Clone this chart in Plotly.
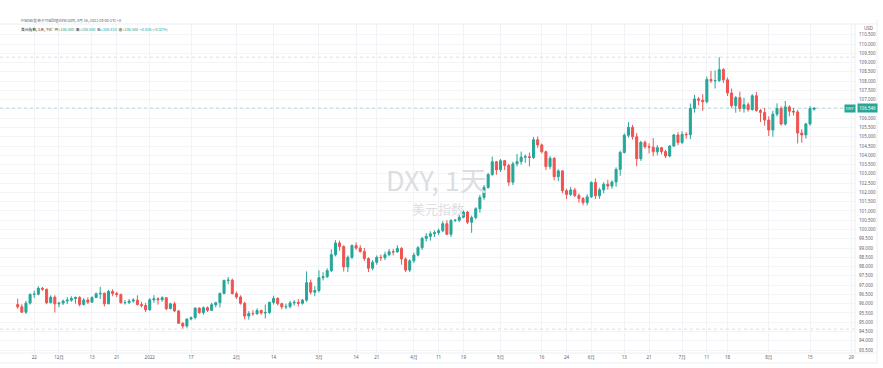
import pandas as pd
import plotly.graph_objects as go

# ---------------- data (DXY daily, 2021-11-17 .. 2022-08-16) ----------------
opens = [
    95.95, 95.83, 95.54, 96.03, 96.50, 96.51, 96.83, 96.78, 96.05, 96.35,  # Nov
    95.99, 96.03, 96.14, 96.19, 96.28, 96.34, 95.96, 96.20, 96.08, 96.33, 96.53,
    96.56, 95.99, 96.66, 96.55, 96.49, 96.05, 96.06, 96.14, 96.19, 95.95, 95.90,  # Dec
    95.67, 96.21, 96.26, 96.21, 96.32, 95.73, 95.99, 95.61, 94.94, 94.79, 95.17,
    95.25, 95.76, 95.52, 95.78, 95.64, 95.94, 96.05, 96.55, 97.25, 97.27,  # Jan
    96.54, 96.36, 96.02, 95.33, 95.47, 95.46, 95.63, 95.50, 95.52, 96.07,
    96.28, 96.00, 95.83, 95.84, 96.04, 96.07, 96.02, 96.19, 97.13, 96.62,  # Feb
    96.71, 97.40, 97.45, 97.78, 98.64, 99.27, 99.08, 97.98, 98.50, 99.13, 99.00, 98.81,
    98.43, 97.91, 98.23, 98.50, 98.48, 98.64, 98.80, 98.79, 98.98, 98.41, 97.81,  # Mar
    98.31, 98.62, 99.02, 99.52, 99.63, 99.77, 99.83, 99.93, 100.31, 99.74, 100.49,
    100.50, 100.66, 100.94, 100.39, 100.64, 101.12, 101.73, 102.27, 102.96, 103.65,  # Apr
    103.22, 103.71, 103.45, 102.55, 103.54, 103.66, 103.90, 103.92, 103.88, 104.84, 104.56,
    104.19, 103.39, 103.84, 102.85, 103.16, 102.09, 101.89, 102.13, 101.83, 101.67, 101.45,  # May
    101.76, 102.53, 101.82, 102.14, 102.44, 102.34, 102.56, 103.24, 104.15, 105.08, 105.51,
    105.00, 103.82, 104.70, 104.46, 104.44, 104.19, 104.41, 104.20, 103.96, 104.50, 105.10,  # Jun
    104.69, 105.13, 105.11, 106.53, 107.04, 106.97, 106.89, 108.09, 108.02, 108.03, 108.62,
    108.07, 107.36, 106.68, 107.11, 106.52, 106.73, 106.47, 107.21, 106.41, 106.31,  # Jul
    105.90, 105.36, 106.22, 106.52, 105.69, 106.61, 106.38, 106.34, 105.20, 105.10, 105.69, 106.48,  # Aug
]
highs = [
    96.27, 95.97, 96.15, 96.55, 96.70, 96.94, 96.90, 96.80, 96.45, 96.45,
    96.10, 96.22, 96.35, 96.40, 96.38, 96.40, 96.30, 96.34, 96.40, 96.60, 96.91,
    96.60, 96.75, 96.78, 96.63, 96.55, 96.20, 96.25, 96.30, 96.45, 96.10, 96.05,
    96.30, 96.46, 96.35, 96.40, 96.35, 96.05, 96.10, 95.65, 95.00, 95.20, 95.30,
    95.80, 95.80, 95.85, 95.85, 96.05, 96.10, 96.60, 97.30, 97.44, 97.35,
    96.65, 96.45, 96.10, 95.60, 95.65, 95.75, 95.68, 95.95, 96.10, 96.43,
    96.35, 96.05, 96.00, 96.15, 96.20, 96.25, 96.25, 97.74, 97.30, 96.95,
    97.80, 97.70, 97.90, 98.93, 99.42, 99.40, 99.15, 98.60, 99.20, 99.30, 99.15,
    99.00, 98.50, 98.35, 98.60, 98.65, 98.80, 98.95, 98.95, 99.15, 99.05, 98.50,
    98.40, 98.75, 99.10, 99.60, 99.80, 99.90, 99.95, 100.05, 100.45, 100.50, 100.55,
    100.55, 100.80, 101.03, 101.00, 100.75, 101.20, 101.86, 102.40, 103.05, 103.93,
    103.70, 103.80, 103.75, 103.55, 103.65, 104.07, 104.20, 104.05, 104.15, 104.99, 105.01,
    104.63, 104.25, 103.95, 103.90, 103.25, 103.20, 102.20, 102.30, 102.25, 101.95, 101.75,
    101.90, 102.60, 102.75, 102.25, 102.55, 102.68, 102.65, 103.35, 104.25, 105.18, 105.79,
    105.65, 105.20, 104.78, 104.80, 104.65, 104.93, 104.55, 104.45, 104.30, 104.55, 105.15,
    105.25, 105.30, 105.25, 106.79, 107.26, 107.15, 107.30, 108.25, 108.55, 108.58, 109.29,
    108.70, 108.20, 107.60, 107.20, 107.43, 107.10, 106.85, 107.30, 107.42, 106.50,
    106.55, 106.10, 106.40, 106.80, 106.65, 106.93, 106.70, 106.55, 106.45, 105.40, 105.75, 106.65, 106.58,
]
lows = [
    95.72, 95.50, 95.45, 95.95, 96.30, 96.45, 96.70, 95.97, 96.02, 95.52,
    95.80, 95.93, 95.98, 96.10, 96.00, 95.85, 95.90, 95.98, 96.05, 96.30, 96.25,
    95.85, 95.98, 96.40, 96.35, 96.00, 95.95, 95.98, 96.05, 95.90, 95.80, 95.55,
    95.62, 96.05, 95.95, 96.10, 95.65, 95.70, 95.55, 94.90, 94.63, 94.70, 95.10,
    95.15, 95.45, 95.40, 95.55, 95.62, 95.80, 95.80, 96.50, 97.05, 96.50,
    96.25, 95.95, 95.16, 95.14, 95.35, 95.40, 95.40, 95.20, 95.45, 95.95,
    95.90, 95.70, 95.70, 95.75, 95.90, 95.85, 95.95, 96.10, 96.50, 96.40,
    96.60, 97.25, 97.40, 97.70, 98.55, 98.85, 97.73, 97.70, 98.40, 98.90, 98.75,
    98.30, 97.70, 97.80, 98.10, 98.30, 98.35, 98.55, 98.60, 98.75, 98.10, 97.70,
    97.70, 98.20, 98.55, 98.90, 99.35, 99.40, 99.60, 99.70, 99.85, 99.70, 99.60,
    100.40, 100.40, 100.60, 100.30, 99.82, 100.55, 100.90, 101.60, 102.20, 102.90,
    102.95, 103.10, 103.20, 102.35, 102.40, 103.40, 103.50, 103.60, 103.40, 103.80, 104.40,
    104.10, 103.20, 103.25, 102.65, 102.60, 101.95, 101.64, 101.80, 101.75, 101.45, 101.30,
    101.30, 101.70, 101.65, 101.65, 101.95, 102.15, 102.20, 102.30, 102.90, 104.10, 104.95,
    104.85, 103.41, 103.70, 104.35, 104.10, 103.95, 104.00, 104.05, 103.85, 103.90, 104.45,
    104.55, 104.60, 104.90, 104.87, 106.30, 106.70, 106.40, 106.80, 107.90, 107.60, 107.95,
    107.90, 107.20, 106.55, 106.30, 106.35, 106.30, 106.35, 106.40, 106.35, 105.80,
    105.60, 105.04, 105.00, 106.10, 105.60, 105.60, 106.10, 106.15, 104.64, 104.68, 104.90, 105.60, 106.41,
]
closes = [
    95.83, 95.54, 96.03, 96.50, 96.51, 96.83, 96.78, 96.05, 96.35, 95.99,
    96.03, 96.14, 96.19, 96.28, 96.34, 95.96, 96.20, 96.08, 96.33, 96.53, 96.56,
    95.99, 96.66, 96.55, 96.49, 96.05, 96.06, 96.14, 96.19, 95.95, 95.90, 95.67,
    96.21, 96.26, 96.21, 96.32, 95.73, 95.99, 95.61, 94.94, 94.79, 95.17, 95.25,
    95.76, 95.52, 95.78, 95.64, 95.94, 96.05, 96.55, 97.25, 97.27, 96.54,
    96.36, 96.02, 95.33, 95.47, 95.46, 95.63, 95.50, 95.52, 96.07, 96.28,
    96.00, 95.83, 95.84, 96.04, 96.07, 96.02, 96.19, 97.13, 96.62, 96.71,
    97.40, 97.45, 97.78, 98.64, 99.27, 99.08, 97.98, 98.50, 99.13, 99.00, 98.81,
    98.43, 97.91, 98.23, 98.50, 98.48, 98.64, 98.80, 98.79, 98.98, 98.41, 97.81,
    98.31, 98.62, 99.02, 99.52, 99.63, 99.77, 99.83, 99.93, 100.31, 99.74, 100.49,
    100.50, 100.66, 100.94, 100.39, 100.64, 101.12, 101.73, 102.27, 102.96, 103.65,
    103.22, 103.71, 103.45, 102.55, 103.54, 103.66, 103.90, 103.92, 103.88, 104.84, 104.56,
    104.19, 103.39, 103.84, 102.85, 103.16, 102.09, 101.89, 102.13, 101.83, 101.67, 101.45,
    101.76, 102.53, 101.82, 102.14, 102.44, 102.34, 102.56, 103.24, 104.15, 105.08, 105.51,
    105.00, 103.82, 104.70, 104.46, 104.44, 104.19, 104.41, 104.20, 103.96, 104.50, 105.10,
    104.69, 105.13, 105.11, 106.53, 107.04, 106.97, 106.89, 108.09, 108.02, 108.03, 108.62,
    108.07, 107.36, 106.68, 107.11, 106.52, 106.73, 106.47, 107.21, 106.41, 106.31,
    105.90, 105.36, 106.22, 106.52, 105.69, 106.61, 106.38, 106.34, 105.20, 105.10, 105.69, 106.52, 106.546,
]

# x-axis tick labels (trading-day index, label)
tick_pos = [4, 10, 18, 24, 32, 42, 53, 62, 73, 82, 87, 96, 102, 108, 117, 127, 133,
            139, 147, 153, 161, 167, 172, 182, 192, 202]
tick_txt = ["22", "12月", "13", "21", "2022", "17", "2月", "14", "3月", "14", "21", "4月",
            "11", "19", "5月", "16", "24", "6月", "13", "21", "7月", "11", "18", "8月", "15", "29"]

# price-scale labels
y_ticks = [93.5, 94.0, 94.5, 95.0, 95.5, 96.0, 96.5, 97.0, 97.5, 98.0, 98.5, 99.0,
           99.5, 100.0, 100.5, 101.0, 101.5, 102.0, 102.5, 103.0, 103.5, 104.0,
           104.5, 105.0, 105.5, 106.0, 106.5, 107.0, 107.5, 108.0, 108.5, 109.0,
           109.5, 110.0, 110.5]

dates = [d for d in pd.bdate_range("2021-11-17", "2022-08-16") if d != pd.Timestamp("2021-12-24")]
n = len(closes)
assert len(opens) == n and len(highs) == n and len(lows) == n and len(dates) == n
idx = list(range(n))

UP = "#26a69a"
DN = "#ef5350"

W, H = 883, 368
ML, MR, MT, MB = 0, 28, 24, 15
PW, PH = W - ML - MR, H - MT - MB


def px(x):
    return (x - ML) / PW


def py(y):
    return (H - MB - y) / PH


fig = go.Figure()
fig.add_trace(go.Candlestick(
    x=idx, open=opens, high=highs, low=lows, close=closes,
    increasing=dict(line=dict(color=UP, width=1), fillcolor=UP),
    decreasing=dict(line=dict(color=DN, width=1), fillcolor=DN),
    whiskerwidth=0, hoverinfo="skip", showlegend=False,
))

hi, lo = max(highs), min(lows)
shapes = [
    dict(type="line", xref="paper", yref="y", x0=0, x1=1, y0=hi, y1=hi,
         line=dict(color="#dcdee3", width=1, dash="dot")),
    dict(type="line", xref="paper", yref="y", x0=0, x1=1, y0=lo, y1=lo,
         line=dict(color="#dcdee3", width=1, dash="dot")),
    dict(type="line", xref="paper", yref="y", x0=0, x1=1, y0=closes[-1], y1=closes[-1],
         line=dict(color="rgba(38,166,154,0.35)", width=1, dash="dot")),
    # pane frame lines
    dict(type="line", xref="paper", yref="paper", x0=1, x1=1, y0=0, y1=1,
         line=dict(color="#eceef1", width=1)),
    dict(type="line", xref="paper", yref="paper", x0=0, x1=px(877), y0=0, y1=0,
         line=dict(color="#eceef1", width=1)),
    dict(type="line", xref="paper", yref="paper", x0=0, x1=px(877), y0=1, y1=1,
         line=dict(color="#eceef1", width=1)),
    dict(type="line", xref="paper", yref="paper", x0=px(877), x1=px(877), y0=py(363), y1=py(20),
         line=dict(color="#eceef1", width=1)),
    dict(type="line", xref="paper", yref="paper", x0=0, x1=px(877), y0=py(363), y1=py(363),
         line=dict(color="#eceef1", width=1)),
]

last_o, last_h, last_l, last_c = opens[-1], highs[-1], lows[-1], closes[-1]
chg = last_c - closes[-2]
TXT = "#5d606b"
annotations = [
    dict(xref="paper", yref="paper", x=px(19), y=py(21), xanchor="left", yanchor="middle",
         text="Pranav发布于TradingView.com, 8月 16, 2022 03:00 UTC+8", showarrow=False,
         font=dict(size=3.8, color=TXT, family="Noto Sans CJK SC")),
    dict(xref="paper", yref="paper", x=px(19), y=py(29.5), xanchor="left", yanchor="middle",
         text=("美元指数, 1天, TVC  开<span style='color:%s'>=%.3f</span>  高<span style='color:%s'>=%.3f</span>"
               "  低<span style='color:%s'>=%.3f</span>  收<span style='color:%s'>=%.3f  %+.3f (%+.2f%%)</span>")
              % (UP, last_o, UP, last_h, UP, last_l, UP, last_c, chg, chg / closes[-2] * 100),
         showarrow=False, font=dict(size=3.8, color="#131722", family="Noto Sans CJK SC")),
    dict(xref="paper", yref="paper", x=px(862), y=py(28), xanchor="left", yanchor="middle",
         text="USD", showarrow=False, font=dict(size=4.5, color=TXT)),
    dict(xref="paper", yref="paper", x=px(437), y=py(180), xanchor="center", yanchor="middle",
         text="DXY, 1天", showarrow=False,
         font=dict(size=27, color="#dcdee2", family="Noto Sans CJK SC")),
    dict(xref="paper", yref="paper", x=px(438), y=py(209), xanchor="center", yanchor="middle",
         text="美元指数", showarrow=False,
         font=dict(size=13, color="#dcdee2", family="Noto Sans CJK SC")),
    dict(xref="paper", yref="y", x=px(857), y=last_c, xanchor="left", yanchor="middle",
         text="%.3f" % last_c,
         showarrow=False, bgcolor=UP, borderpad=1,
         font=dict(size=4.5, color="white")),
    dict(xref="paper", yref="y", x=px(856), y=last_c, xanchor="right", yanchor="middle",
         text="DXY", showarrow=False, bgcolor=UP, borderpad=1,
         font=dict(size=4, color="white")),
]

fig.update_layout(
    width=W, height=H,
    margin=dict(l=ML, r=MR, t=MT, b=MB),
    paper_bgcolor="white", plot_bgcolor="white",
    font=dict(family="Noto Sans, Noto Sans CJK SC", color=TXT),
    xaxis=dict(
        range=[-4.29, 202.9], tickmode="array", tickvals=tick_pos, ticktext=tick_txt,
        tickfont=dict(size=4.5, color=TXT), ticks="", showgrid=True, gridcolor="#f2f3f6",
        gridwidth=1, zeroline=False, showline=False, rangeslider=dict(visible=False),
        fixedrange=True,
    ),
    yaxis=dict(
        side="right", range=[93.34, 111.08], tickmode="array", tickvals=y_ticks,
        ticktext=["%.3f" % v for v in y_ticks],
        tickfont=dict(size=4.5, color=TXT), ticks="", showgrid=True, gridcolor="#f3f4f7",
        gridwidth=1, zeroline=False, showline=False, ticklabelstandoff=3,
    ),
    shapes=shapes, annotations=annotations,
)

fig.write_html("out.html")
